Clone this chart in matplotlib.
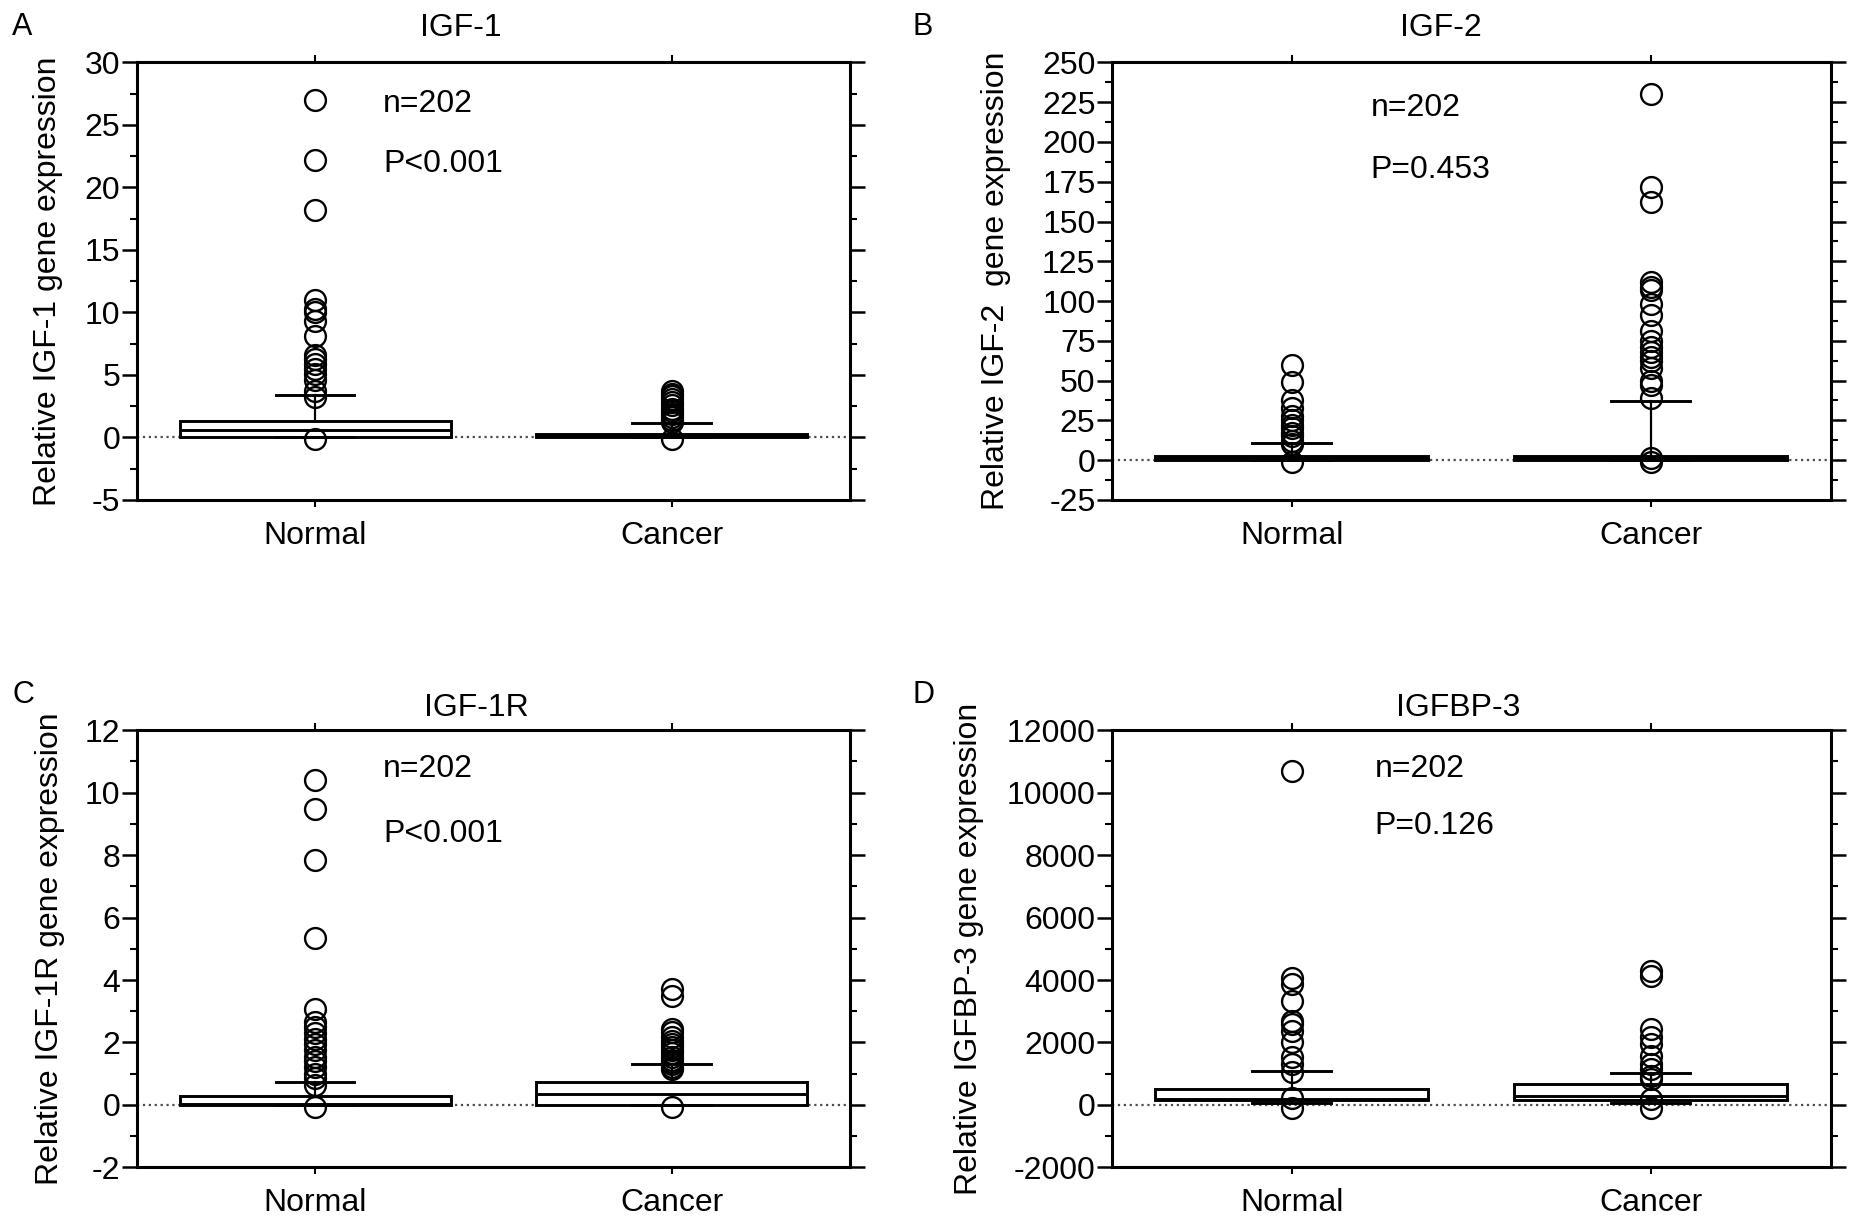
import matplotlib
matplotlib.use('Agg')
import matplotlib.pyplot as plt
from matplotlib.ticker import MultipleLocator

plt.rcParams['font.family'] = ['Liberation Sans', 'DejaVu Sans']
plt.rcParams['axes.unicode_minus'] = False

groups = ['Normal', 'Cancer']

# box values per group: q1, median, q3, lower cap, upper cap
igf1_box = [[0.05, 0.55, 1.3, 0.0, 3.4], [0.02, 0.15, 0.3, 0.0, 1.15]]
igf1_fliers = [[27.0, 22.2, 18.2, 11.0, 10.3, 10.0, 9.3, 8.1, 6.6, 6.3, 5.9, 5.5,
                5.1, 4.6, 3.7, 3.2, -0.1],
               [3.7, 3.5, 3.3, 3.1, 2.8, 2.6, 2.3, 2.1, 1.9, 1.6, 1.4, 1.2, -0.1]]

igf2_box = [[0.3, 1.0, 2.5, 0.0, 11.0], [0.3, 1.0, 2.5, 0.0, 37.0]]
igf2_fliers = [[60, 49, 38, 33, 28, 25, 22, 20, 17, 15, 12, 10, -1],
               [230, 172, 162, 112, 109, 107, 98, 91, 81, 75, 71, 68, 65, 62, 58,
                50, 47, 39, 1, -1]]

igf1r_box = [[0.0, 0.02, 0.29, 0.0, 0.72], [0.0, 0.36, 0.72, 0.0, 1.30]]
igf1r_fliers = [[10.4, 9.46, 7.84, 5.33, 3.07, 2.64, 2.5, 2.3, 2.1, 1.95, 1.75, 1.55,
                 1.4, 1.2, 1.0, 0.85, 0.65, -0.05],
                [3.7, 3.5, 2.43, 2.32, 2.16, 2.05, 1.95, 1.85, 1.75, 1.65, 1.55, 1.45,
                 1.38, 1.3, 1.22, 1.15, -0.05]]

igfbp3_box = [[160, 180, 523, 75, 1090], [160, 290, 660, 75, 1025]]
igfbp3_fliers = [[10700, 4060, 3870, 3330, 2690, 2590, 2370, 2000, 1520, 1300, 1040,
                  210, -85],
                 [4300, 4130, 2420, 2160, 1940, 1570, 1300, 1140, 930, 820, 180, -85]]

titles = ['IGF-1', 'IGF-2', 'IGF-1R', 'IGFBP-3']
ylabels = ['Relative IGF-1 gene expression', 'Relative IGF-2  gene expression',
           'Relative IGF-1R gene expression', 'Relative IGFBP-3 gene expression']
p_texts = ['P<0.001', 'P=0.453', 'P<0.001', 'P=0.126']
n_text = 'n=202'
letters = ['A', 'B', 'C', 'D']

fig = plt.figure(figsize=(18.66, 12.25), dpi=100)

axes_rects = [[0.0734, 0.592, 0.382, 0.357], [0.596, 0.592, 0.385, 0.357],
              [0.0734, 0.047, 0.382, 0.357], [0.596, 0.047, 0.385, 0.357]]
ylims = [(-5, 30), (-25, 250), (-2, 12), (-2000, 12000)]
steps = [5, 25, 2, 2000]
ylab_x = [-0.104, -0.141, -0.101, -0.179]
title_y = [1.078, 1.078, 1.05, 1.05]
title_x = [0.455, 0.458, 0.476, 0.481]
letter_pos = [(0.0065, 0.978), (0.489, 0.978), (0.0065, 0.433), (0.489, 0.433)]
n_y = [0.905, 0.897, 0.911, 0.911]
p_y = [0.767, 0.753, 0.762, 0.78]
n_x = [0.345, 0.36, 0.345, 0.365]

boxes = [igf1_box, igf2_box, igf1r_box, igfbp3_box]
fliers = [igf1_fliers, igf2_fliers, igf1r_fliers, igfbp3_fliers]

fs = 23

for i in range(4):
    ax = fig.add_axes(axes_rects[i])
    stats = []
    for b, f in zip(boxes[i], fliers[i]):
        stats.append({'q1': b[0], 'med': b[1], 'q3': b[2],
                      'whislo': b[3], 'whishi': b[4], 'fliers': f})
    ax.axhline(0, color='0.3', ls=':', lw=1.6, zorder=0.5)
    ax.bxp(stats, positions=[1, 2], widths=0.76, patch_artist=True,
           capwidths=0.22,
           boxprops=dict(facecolor='white', edgecolor='black', lw=2.1),
           medianprops=dict(color='black', lw=2.1),
           whiskerprops=dict(color='black', lw=1.6),
           capprops=dict(color='black', lw=2.1),
           flierprops=dict(marker='o', mfc='none', mec='black', ms=15, mew=1.7))
    ax.set_xlim(0.5, 2.5)
    ax.set_ylim(*ylims[i])
    ax.yaxis.set_major_locator(MultipleLocator(steps[i]))
    ax.yaxis.set_minor_locator(MultipleLocator(steps[i] / 2))
    ax.set_xticks([1, 2])
    ax.set_xticklabels(groups)
    for s in ax.spines.values():
        s.set_linewidth(2.2)
    ax.tick_params(axis='y', which='major', direction='out', length=11, width=1.8,
                   labelsize=fs, pad=1, right=True)
    ax.tick_params(axis='y', which='minor', direction='out', length=5, width=1.5,
                   right=True)
    ax.tick_params(axis='x', direction='out', length=5, width=1.5, labelsize=fs,
                   pad=10, top=True)
    ax.set_ylabel(ylabels[i], fontsize=fs)
    ax.yaxis.set_label_coords(ylab_x[i], 0.5)
    ax.text(title_x[i], title_y[i], titles[i], transform=ax.transAxes,
            ha='center', va='center', fontsize=fs)
    ax.text(n_x[i], n_y[i], n_text, transform=ax.transAxes, ha='left',
            va='center', fontsize=fs)
    ax.text(n_x[i], p_y[i], p_texts[i], transform=ax.transAxes, ha='left',
            va='center', fontsize=fs)
    fig.text(letter_pos[i][0], letter_pos[i][1], letters[i], fontsize=22,
             ha='left', va='center')

fig.savefig('out.png', dpi=100)
